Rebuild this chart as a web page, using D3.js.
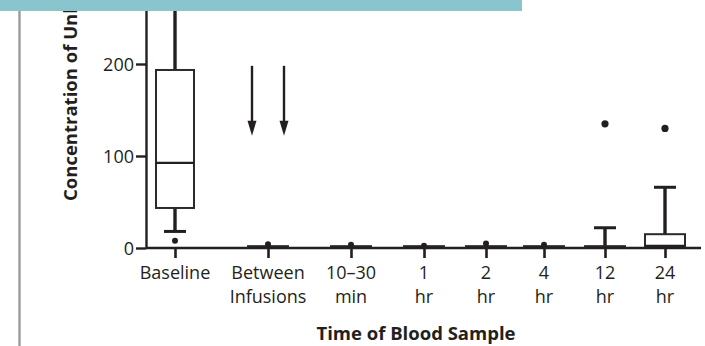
<!DOCTYPE html>
<html>
<head>
<meta charset="utf-8">
<script src="https://cdn.jsdelivr.net/npm/d3@7"></script>
<style>
  html, body { margin: 0; padding: 0; background: #fff; }
  svg { display: block; }
  text { font-family: "Open Sans", sans-serif; fill: #231f20; }
</style>
</head>
<body>
<svg id="chart" width="705" height="346"></svg>
<script>
// Sampling times
const categories = ["Baseline", "Between Infusions", "10–30 min", "1 hr", "2 hr", "4 hr", "12 hr", "24 hr"];
const labelLine1 = ["Baseline", "Between", "10–30", "1", "2", "4", "12", "24"];
const labelLine2 = ["", "Infusions", "min", "hr", "hr", "hr", "hr", "hr"];

// Box-plot summaries per sampling time
const whiskerLow  = [18,    0,   0,   0,   0,   0,   0,  0];
const q1          = [43.5,  0,   0,   0,   0,   0,   0,  1];
const median      = [92.5,  0.5, 0.5, 0.5, 0.5, 0.5, 0.5, 1.5];
const q3          = [193.5, 2,   2,   2,   2,   2,   2,  15];
const whiskerHigh = [300,   2,   2,   2,   2,   2,   22, 66];
const outliers    = [[8], [4], [3.5], [2.5], [5], [3.5], [135], [130]];

// Axis ticks
const yTicks = [0, 100, 200];

// Relative spacing between neighbouring sampling slots
const slotGaps = [9.3, 8.3, 7.3, 6.2, 5.8, 6.1, 6.0];

const svg = d3.select("#chart");

const totalGap = d3.sum(slotGaps);
const slot = d3.scaleLinear().domain([0, totalGap]).range([175, 665]);
const cumulative = [0, ...Array.from(d3.cumsum(slotGaps))];
const x = d3.scaleOrdinal(categories, cumulative.map(c => slot(c)));

const y = d3.scaleLinear().domain([0, 280]).range([248, 248 - 280 * 0.92]);

const ink = "#231f20";
const boxW = 40;

// Y axis
const yAxis = svg.append("g")
  .attr("transform", "translate(146,0)")
  .call(d3.axisLeft(y).tickValues(yTicks).tickSize(10).tickSizeOuter(0).tickPadding(2));
yAxis.select(".domain").attr("stroke", ink).attr("stroke-width", 2.4);
yAxis.selectAll(".tick line").attr("stroke", ink).attr("stroke-width", 2.4);
yAxis.selectAll(".tick text")
  .style("font-family", "'Open Sans', sans-serif")
  .style("font-size", "18px")
  .attr("fill", ink)
  .attr("dy", "0.36em");

// X axis
const xAxis = svg.append("g")
  .attr("transform", `translate(0,${y(0)})`)
  .call(d3.axisBottom(x).tickSize(10).tickFormat(""));
xAxis.select(".domain").remove();
xAxis.selectAll(".tick line").attr("stroke", ink).attr("stroke-width", 2.6);
xAxis.append("line")
  .attr("x1", 146).attr("x2", 701)
  .attr("y1", 0).attr("y2", 0)
  .attr("stroke", ink).attr("stroke-width", 2.6);

const labels = svg.append("g").attr("font-size", 18).attr("text-anchor", "middle");
categories.forEach((c, i) => {
  labels.append("text").attr("x", x(c)).attr("y", 279).text(labelLine1[i]);
  if (labelLine2[i]) labels.append("text").attr("x", x(c)).attr("y", 303).text(labelLine2[i]);
});

// Boxes
const boxes = svg.append("g").selectAll("g").data(categories).join("g");
const halfW = i => (i === 0 ? 19 : boxW / 2);

// whiskers
boxes.append("line")
  .attr("x1", d => x(d)).attr("x2", d => x(d))
  .attr("y1", (d, i) => y(q3[i])).attr("y2", (d, i) => y(whiskerHigh[i]))
  .attr("stroke", ink).attr("stroke-width", 3.4);
boxes.append("line")
  .attr("x1", d => x(d)).attr("x2", d => x(d))
  .attr("y1", (d, i) => y(q1[i])).attr("y2", (d, i) => y(whiskerLow[i]))
  .attr("stroke", ink).attr("stroke-width", 3.4);
// caps
boxes.filter((d, i) => whiskerHigh[i] - q3[i] > 3)
  .append("line")
  .attr("x1", d => x(d) - 11).attr("x2", d => x(d) + 11)
  .attr("y1", d => y(whiskerHigh[categories.indexOf(d)]))
  .attr("y2", d => y(whiskerHigh[categories.indexOf(d)]))
  .attr("stroke", ink).attr("stroke-width", 3);
boxes.filter((d, i) => q1[i] - whiskerLow[i] > 3)
  .append("line")
  .attr("x1", d => x(d) - 11).attr("x2", d => x(d) + 11)
  .attr("y1", d => y(whiskerLow[categories.indexOf(d)]))
  .attr("y2", d => y(whiskerLow[categories.indexOf(d)]))
  .attr("stroke", ink).attr("stroke-width", 3);

// box body
boxes.append("rect")
  .attr("x", (d, i) => x(d) - halfW(i))
  .attr("width", (d, i) => 2 * halfW(i))
  .attr("y", (d, i) => y(q3[i]))
  .attr("height", (d, i) => Math.max(0, y(q1[i]) - y(q3[i])))
  .attr("fill", "#fff")
  .attr("stroke", "#2a2a2a")
  .attr("stroke-width", 2);
// median
boxes.append("line")
  .attr("x1", (d, i) => x(d) - halfW(i))
  .attr("x2", (d, i) => x(d) + halfW(i))
  .attr("y1", (d, i) => y(median[i])).attr("y2", (d, i) => y(median[i]))
  .attr("stroke", ink).attr("stroke-width", (d, i) => i === 7 ? 3.5 : 2.2);

// outliers
boxes.each(function (d, i) {
  d3.select(this).selectAll("circle").data(outliers[i]).join("circle")
    .attr("cx", x(d))
    .attr("cy", v => y(v))
    .attr("r", v => v > 20 ? 3.6 : 3)
    .attr("fill", ink);
});

// Infusion arrows around the between-infusion sample
const arrowTop = 198, arrowTip = 122;
[-16, 16].forEach(dx => {
  const ax = x("Between Infusions") + dx;
  svg.append("line")
    .attr("x1", ax).attr("x2", ax)
    .attr("y1", y(arrowTop)).attr("y2", y(arrowTip) - 12)
    .attr("stroke", ink).attr("stroke-width", 2.4);
  svg.append("path")
    .attr("d", `M${ax - 4.5},${y(arrowTip) - 15} L${ax + 4.5},${y(arrowTip) - 15} L${ax},${y(arrowTip)} Z`)
    .attr("fill", ink);
});

// Axis titles
svg.append("text")
  .attr("transform", "translate(77,201) rotate(-90)")
  .attr("font-size", 18.5).attr("font-weight", 700)
  .text("Concentration of Unbound Venom (ng/ml)");
svg.append("text")
  .attr("x", 416).attr("y", 340)
  .attr("text-anchor", "middle")
  .attr("font-size", 18.5).attr("font-weight", 700)
  .text("Time of Blood Sample");

// Frame accents
svg.append("line")
  .attr("x1", 19.5).attr("x2", 19.5).attr("y1", 11).attr("y2", 346)
  .attr("stroke", "#9b9b9b").attr("stroke-width", 2.4);
svg.append("rect")
  .attr("x", 0).attr("y", 0).attr("width", 522).attr("height", 11)
  .attr("fill", "#89c5cc");
</script>
</body>
</html>
